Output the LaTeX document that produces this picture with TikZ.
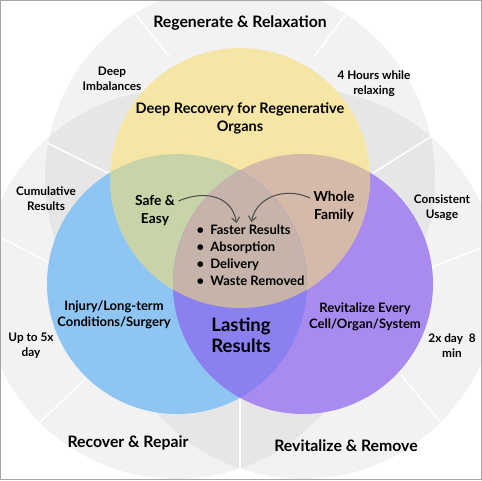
\documentclass[tikz,border=0pt]{standalone}
\usepackage{fontspec}
\setmainfont{Lato}
\usetikzlibrary{arrows.meta,calc}
\definecolor{yelfill}{HTML}{F5E6A6}
\definecolor{blufill}{HTML}{8EC5F2}
\definecolor{purfill}{HTML}{A98BEF}
\definecolor{ybfill}{HTML}{C8D4A8}
\definecolor{ypfill}{HTML}{D5B9A9}
\definecolor{bpfill}{HTML}{8A80F0}
\definecolor{midfill}{HTML}{C6B4AA}
\definecolor{arrowgray}{HTML}{4A4A4A}
\tikzset{
    %Define standard arrow tip
    >={Straight Barb[length=5pt,width=8pt]},
    %Define style for outer grey rings
    ring/.style={
           fill=black,
           fill opacity=0.05},
    % Define style for the white sector lines
    cut/.style={
           draw=white,
           line width=1.4pt},
    % Define styles for the labels
    headlbl/.style={
           font=\bfseries\fontsize{15.8}{18}\selectfont,
           align=center},
    ringlbl/.style={
           font=\bfseries\fontsize{11.8}{15}\selectfont,
           align=center},
    innerlbl/.style={
           font=\bfseries\fontsize{14.5}{18}\selectfont,
           align=center},
    % Define arrow style
    pil/.style={
           ->,
           draw=arrowgray,
           line width=1pt}
}

\begin{document}
\begin{tikzpicture}[x=1pt,y=1pt]
  \useasboundingbox (0,0) rectangle (482,480);
  \clip (0,0) rectangle (482,480);
  \coordinate (Y) at (240,302);
  \coordinate (B) at (177,196);
  \coordinate (P) at (303,196);

  % outer rings
  \fill[ring] (Y) circle (195pt);
  \fill[ring] (B) circle (195pt);
  \fill[ring] (P) circle (195pt);
  \draw[cut] (135,466) -- (170,423);
  \draw[cut] (346,466) -- (314,423);
  \draw[cut] (47,337) -- (112,305);
  \draw[cut] (432,344) -- (370,305);
  \draw[cut] (-2,244) -- (52,216);
  \draw[cut] (484,233) -- (430,212);
  \draw[cut] (87,103) -- (33,51);
  \draw[cut] (401,105) -- (449,48);
  \draw[cut] (240,84) -- (240,-2);

  % venn circles
  \fill[blufill] (B) circle (130pt);
  \fill[purfill] (P) circle (130pt);
  \fill[yelfill] (Y) circle (130pt);
  \begin{scope}
    \clip (Y) circle (130pt);
    \fill[ybfill] (B) circle (130pt);
    \fill[ypfill] (P) circle (130pt);
  \end{scope}
  \begin{scope}
    \clip (B) circle (130pt);
    \fill[bpfill] (P) circle (130pt);
    \clip (Y) circle (130pt);
    \fill[midfill] (P) circle (130pt);
  \end{scope}

  % labels
  \node[headlbl] (regen) at (240,457) {Regenerate \& Relaxation};
  \node[headlbl] (recover) at (128,37) {Recover \& Repair};
  \node[headlbl] (remove) at (346,34) {Revitalize \& Remove};
  \node[ringlbl] (imbal) at (112,401) {Deep\\Imbalances};
  \node[ringlbl] (hours) at (374,396) {4 Hours while\\relaxing};
  \node[ringlbl] (cumul) at (46,281) {Cumulative\\Results};
  \node[ringlbl] (consist) at (442,272) {Consistent\\Usage};
  \node[ringlbl] (upto) at (31,134) {Up to 5x\\day};
  \node[ringlbl] (twice) at (452,134) {2x day~~8\\min};
  \node[innerlbl] (deeprec) at (240,362) {Deep Recovery for Regenerative\\Organs};
  \node[innerlbl,font=\bfseries\fontsize{13.8}{18}\selectfont] (safe) at (155,269) {Safe \&\\Easy};
  \node[innerlbl,font=\bfseries\fontsize{13.8}{18}\selectfont] (whole) at (334,273) {Whole\\Family};
  \node[innerlbl,font=\bfseries\fontsize{13}{16.5}\selectfont] (injury) at (114,165) {Injury/Long-term\\Conditions/Surgery};
  \node[innerlbl,font=\bfseries\fontsize{13}{16.5}\selectfont] (revital) at (365,163) {Revitalize Every\\Cell/Organ/System};
  \node[innerlbl,font=\bfseries\fontsize{18.5}{21}\selectfont] (lasting) at (241,145) {Lasting\\Results};
  \node[font=\bfseries\fontsize{13}{17}\selectfont,align=left,anchor=west] (benefits) at (193,225)
    {\textbullet~~Faster Results\\\textbullet~~Absorption\\\textbullet~~Delivery\\\textbullet~~Waste Removed};

  % arrows
  \draw[pil] ([yshift=10pt]safe.east) .. controls +(28,12) and +(-4,26) .. ([xshift=-14pt,yshift=-2pt]benefits.north);
  \draw[pil] ([yshift=9pt]whole.west) .. controls +(-26,12) and +(4,24) .. ([xshift=1pt,yshift=-1pt]benefits.north);

  % frame
  \draw[gray!70,line width=1pt] (0.5,0.5) rectangle (481.5,479.5);
\end{tikzpicture}
\end{document}
